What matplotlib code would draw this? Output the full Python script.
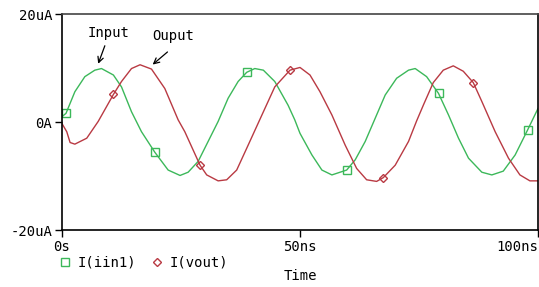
import numpy as np
import matplotlib.pyplot as plt
from matplotlib.lines import Line2D

# time in ns, current in uA
t_in = [0, 0.84, 2.7, 4.8, 6.9, 8.3, 10.8, 12.5, 14.6, 16.7, 19.5, 22.3, 24.8, 26.5, 28.6,
        30.7, 32.8, 34.9, 37.0, 38.8, 40.5, 42.3, 44.7, 47.5, 48.9, 50.0, 52.5, 54.6, 56.7,
        59.8, 61.6, 63.7, 65.8, 67.9, 70.3, 72.8, 74.2, 76.6, 79.1, 81.2, 83.3, 85.4, 88.2,
        90.3, 92.7, 95.2, 97.8, 100]
i_in = [1.0, 1.6, 5.6, 8.4, 9.6, 9.9, 8.7, 6.5, 1.9, -1.8, -5.6, -8.9, -9.9, -9.3, -7.3,
        -3.6, 0.1, 4.4, 7.5, 9.2, 9.9, 9.6, 7.5, 3.1, 0.4, -2.1, -6.1, -8.9, -9.8,
        -8.9, -7.0, -3.6, 0.7, 5.0, 8.1, 9.6, 9.9, 8.4, 5.3, 1.3, -3.0, -6.7, -9.3,
        -9.8, -9.1, -6.1, -1.5, 2.5]
t_out = [0, 1.0, 1.7, 2.7, 5.2, 7.6, 10.8, 12.5, 14.6, 16.4, 18.8, 21.6, 24.4, 25.8, 29.0,
         30.4, 32.8, 34.6, 36.7, 39.1, 42.0, 44.7, 47.9, 50.0, 52.1, 54.2, 56.7, 59.5, 61.9,
         64.0, 66.1, 67.5, 70.0, 72.8, 74.5, 76.0, 78.0, 80.1, 82.2, 84.3, 86.4, 88.2, 91.0,
         93.8, 96.2, 98.3, 100]
i_out = [-0.3, -1.8, -3.8, -4.1, -3.0, 0.1, 5.1, 7.5, 9.9, 10.6, 9.8, 6.2, 0.4, -1.8, -8.0,
         -9.8, -10.9, -10.7, -8.9, -4.3, 1.3, 6.5, 9.6, 10.1, 8.7, 5.6, 1.3, -4.3, -8.6,
         -10.7, -11.0, -10.3, -8.0, -3.6, 0.2, 3.3, 7.3, 9.6, 10.4, 9.4, 7.3, 3.8, -1.8,
         -6.7, -9.8, -10.9, -10.9]
mark_in = [0.84, 19.5, 38.8, 59.8, 79.1, 97.8]
mark_out = [10.8, 29.0, 47.9, 67.5, 86.4]

green = '#3cb85a'
red = '#b93a43'
mono = 'DejaVu Sans Mono'

fig = plt.figure(figsize=(5.39, 2.87), dpi=100)
ax = fig.add_axes([62/539, 1-230/287, 476/539, 216/287])

ax.plot(t_in, i_in, color=green, lw=1, marker='s', ms=6, mfc='none', mew=1,
        markevery=list(np.where(np.isin(t_in, mark_in))[0]))
ax.plot(t_out, i_out, color=red, lw=1, marker='D', ms=4.5, mfc='none', mew=1,
        markevery=list(np.where(np.isin(t_out, mark_out))[0]))

ax.set_xlim(0, 100)
ax.set_ylim(-20, 20)
ax.set_yticks([-20, 0, 20])
ax.set_yticklabels(['-20uA', '0A', '20uA'], family=mono, fontsize=10)
ax.set_xticks([0, 50, 100])
lbls = ax.set_xticklabels(['0s', '50ns', '100ns'], family=mono, fontsize=10)
lbls[2].set_ha('right')
ax.tick_params(length=5, width=1, pad=2)
for s in ax.spines.values():
    s.set_linewidth(1.2)
ax.spines['top'].set_color('#444444')

ax.annotate('', xy=(7.4, 10.3), xytext=(9.2, 14.6),
            arrowprops=dict(arrowstyle='->', color='black', lw=0.9))
ax.text(9.8, 16.5, 'Input', family=mono, fontsize=10, ha='center', va='center')
ax.annotate('', xy=(18.6, 10.3), xytext=(22.6, 13.3),
            arrowprops=dict(arrowstyle='->', color='black', lw=0.9))
ax.text(23.4, 16.0, 'Ouput', family=mono, fontsize=10, ha='center', va='center')

handles = [Line2D([], [], ls='none', marker='s', ms=6, mfc='none', mec=green),
           Line2D([], [], ls='none', marker='D', ms=4, mfc='none', mec=red)]
fig.legend(handles, ['I(iin1)', 'I(vout)'], loc='center left', ncol=2,
           bbox_to_anchor=(58/539, 1-263/287), frameon=False,
           prop={'family': mono, 'size': 10}, handlelength=1.0,
           handletextpad=0.4, columnspacing=1.0, borderpad=0, borderaxespad=0)
fig.text(300/539, 1-276/287, 'Time', family=mono, fontsize=10, ha='center', va='center')

fig.savefig('out.png', dpi=100)
